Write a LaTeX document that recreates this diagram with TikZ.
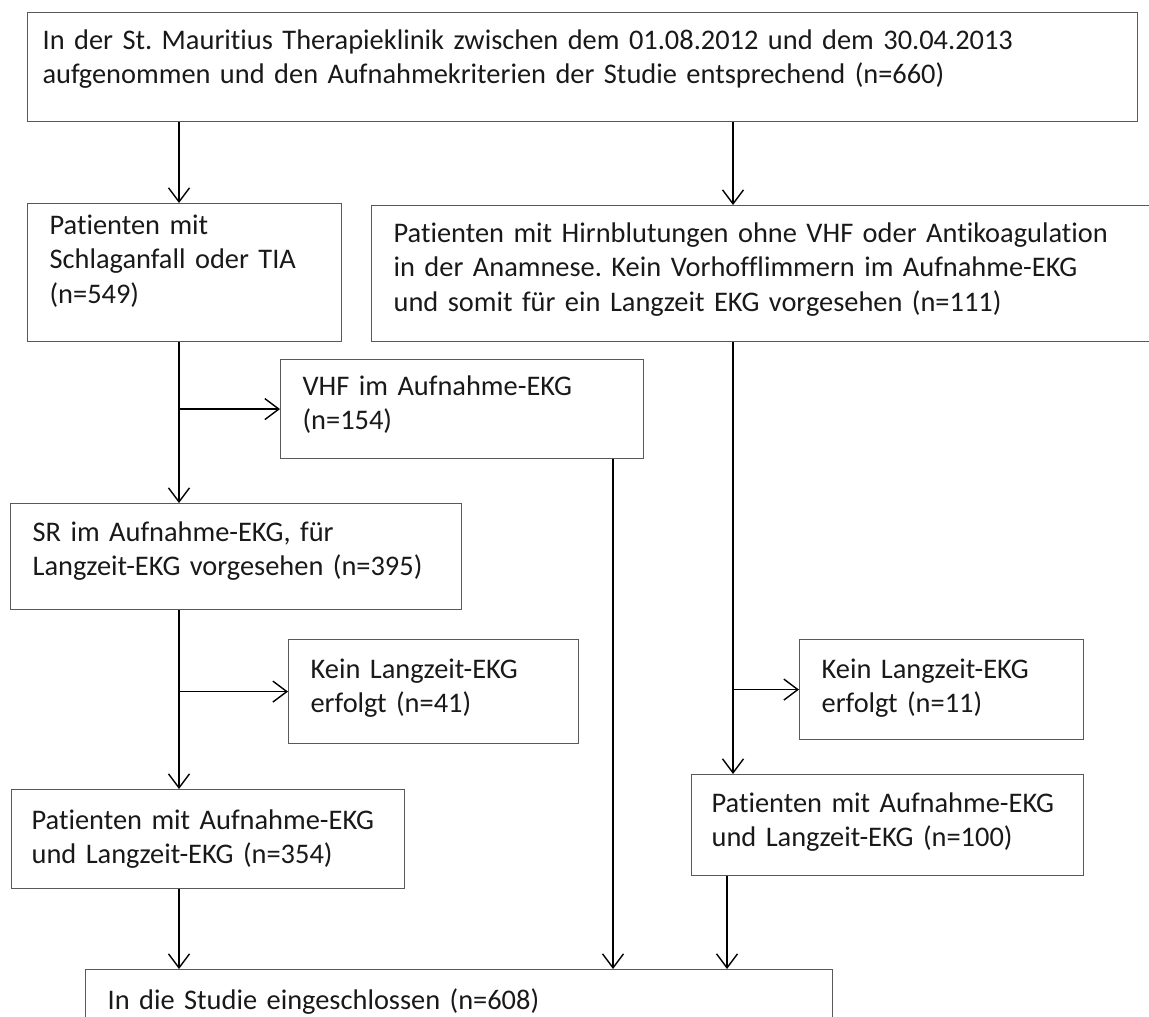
\documentclass[tikz,border=0pt]{standalone}
\usepackage{fontspec}
\setmainfont{Carlito}[Ligatures=NoCommon]
\usepackage{tikz}
\usetikzlibrary{positioning,calc,arrows.meta}
\frenchspacing

\begin{document}
\begin{tikzpicture}[x=0.5pt, y=-0.5pt,
    box/.style={draw=black!65, line width=0.6pt, anchor=north west, align=left,
        inner xsep=11pt, inner ysep=0pt, text=black!90,
        font=\fontsize{14.2}{17.2}\selectfont},
    arr/.style={-{Straight Barb[length=7pt,width=10.5pt]}, line width=0.7pt}]
    % page frame
    \clip (0,0) rectangle (1149,1016);

    % Aufnahme
    \node[box, inner xsep=7.5pt, text width=540pt, text height=18.4pt, text depth=36.1pt] (intro) at (27,12) {In der St. Mauritius Therapieklinik zwischen dem 01.08.2012 und dem 30.04.2013\\aufgenommen und den Aufnahmekriterien der Studie entsprechend (n=660)};

    % linker Zweig
    \node[box, text width=135pt, text height=15.4pt, text depth=53.6pt] (stroke) at (27,203) {Patienten mit\\Schlaganfall oder TIA\\(n=549)};
    \node[box, text width=159.5pt, text height=17.9pt, text depth=31.6pt] (vhf) at (280,359) {VHF im Aufnahme-EKG\\(n=154)};
    \node[box, text width=203.5pt, text height=18.9pt, text depth=34.1pt] (sr) at (10,503) {SR im Aufnahme-EKG, für\\Langzeit-EKG vorgesehen (n=395)};
    \node[box, text width=123pt, text height=19.4pt, text depth=32.6pt] (nolta) at (288,639) {Kein Langzeit-EKG\\erfolgt (n=41)};
    \node[box, inner xsep=10pt, text width=176.5pt, text height=19.9pt, text depth=29.6pt] (botha) at (11,789) {Patienten mit Aufnahme-EKG\\und Langzeit-EKG (n=354)};

    % rechter Zweig
    \node[box, text width=382.5pt, text height=18.4pt, text depth=49.6pt] (bleed) at (371,205) {Patienten mit Hirnblutungen ohne VHF oder Antikoagulation\\in der Anamnese. Kein Vorhofflimmern im Aufnahme-EKG\\und somit für ein Langzeit EKG vorgesehen (n=111)};
    \node[box, text width=120pt, text height=19.4pt, text depth=30.6pt] (noltb) at (799,639) {Kein Langzeit-EKG\\erfolgt (n=11)};
    \node[box, inner xsep=10pt, text width=176pt, text height=18.9pt, text depth=31.6pt] (bothb) at (691,774) {Patienten mit Aufnahme-EKG\\und Langzeit-EKG (n=100)};

    % Einschluss
    \node[box, text width=351.5pt, text height=19.9pt, text depth=20.1pt] (incl) at (85,969) {In die Studie eingeschlossen (n=608)};

    % Spalten der Pfeile
    \coordinate (colL) at (179,0);
    \coordinate (colV) at (613,0);
    \coordinate (colR) at (733,0);
    \coordinate (colB) at (727,0);

    % Pfeile links
    \draw[arr] (intro.south -| colL) -- (stroke.north -| colL);
    \draw[arr] (stroke.south -| colL) -- (sr.north -| colL);
    \draw[arr] (colL |- vhf.west) -- (vhf.west);
    \draw[arr] (sr.south -| colL) -- (botha.north -| colL);
    \draw[arr] (colL |- nolta.west) -- (nolta.west);
    \draw[arr] (botha.south -| colL) -- (incl.north -| colL);
    \draw[arr] (vhf.south -| colV) -- (incl.north -| colV);

    % Pfeile rechts
    \draw[arr] (intro.south -| colR) -- (bleed.north -| colR);
    \draw[arr] (bleed.south -| colR) -- (bothb.north -| colR);
    \draw[arr] (colR |- noltb.west) -- (noltb.west);
    \draw[arr] (bothb.south -| colB) -- (incl.north -| colB);
\end{tikzpicture}
\end{document}
